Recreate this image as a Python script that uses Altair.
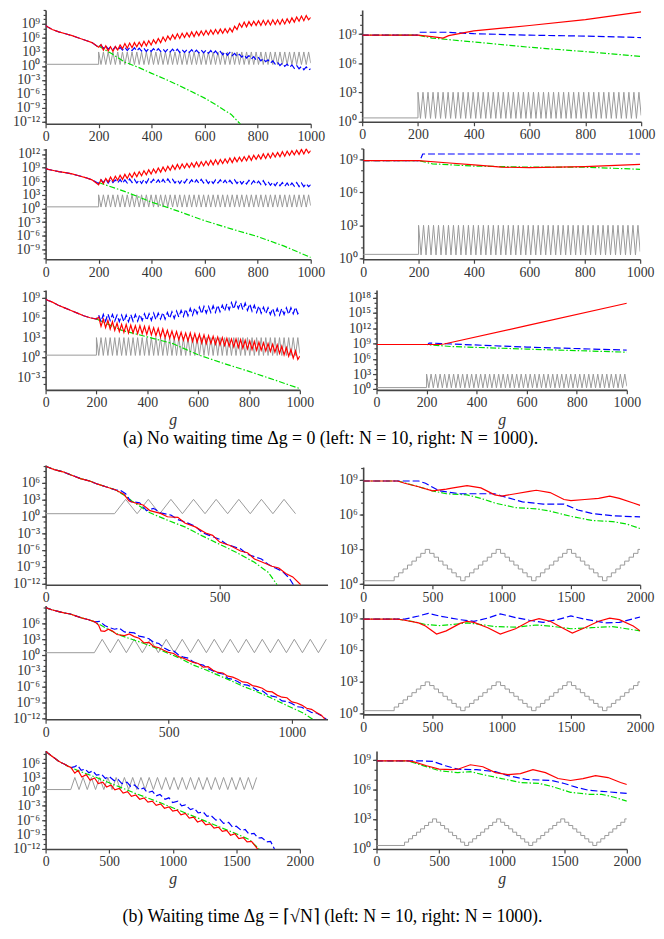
import altair as alt
import pandas as pd

FONT = "Liberation Serif"
SUP = str.maketrans("-0123456789", "⁻⁰¹²³⁴⁵⁶⁷⁸⁹")

# ------------------------------------------------------------------
# (a) shared generation grid for the zig-zag phase (g >= 200)
GA_G = [200, 209, 218, 227, 236, 245, 254, 263, 272, 281,
        290, 299, 308, 317, 326, 335, 344, 353, 362, 371,
        380, 389, 398, 407, 416, 425, 434, 443, 452, 461,
        470, 479, 488, 497, 506, 515, 524, 533, 542, 551,
        560, 569, 578, 587, 596, 605, 614, 623, 632, 641,
        650, 659, 668, 677, 686, 695, 704, 713, 722, 731,
        740, 749, 758, 767, 776, 785, 794, 803, 812, 821,
        830, 839, 848, 857, 866, 875, 884, 893, 902, 911,
        920, 929, 938, 947, 956, 965, 974, 983, 992, 1000]
GA_GRAY_V = [3.0, 0.3, 3.0, 0.3, 3.0, 0.3, 3.0, 0.3, 3.0, 0.3,
             3.0, 0.3, 3.0, 0.3, 3.0, 0.3, 3.0, 0.3, 3.0, 0.3,
             3.0, 0.3, 3.0, 0.3, 3.0, 0.3, 3.0, 0.3, 3.0, 0.3,
             3.0, 0.3, 3.0, 0.3, 3.0, 0.3, 3.0, 0.3, 3.0, 0.3,
             3.0, 0.3, 3.0, 0.3, 3.0, 0.3, 3.0, 0.3, 3.0, 0.3,
             3.0, 0.3, 3.0, 0.3, 3.0, 0.3, 3.0, 0.3, 3.0, 0.3,
             3.0, 0.3, 3.0, 0.3, 3.0, 0.3, 3.0, 0.3, 3.0, 0.3,
             3.0, 0.3, 3.0, 0.3, 3.0, 0.3, 3.0, 0.3, 3.0, 0.3,
             3.0, 0.3, 3.0, 0.3, 3.0, 0.3, 3.0, 0.3, 3.0, 0.6]
GA_PRE_G = [0, 200]
GA_PRE_V = [0.35, 0.35]

INIT_G = [0, 10, 25, 50, 75, 100, 125, 150, 175]

# row 1 left (N=10)
R1L_INIT = [8.7, 8.3, 7.8, 7.3, 6.9, 6.5, 6.0, 5.5, 5.0]
R1L_RED = [4.0, 4.6, 3.4, 4.3, 3.2, 4.1, 3.1, 4.2, 3.4, 4.5,
           3.7, 4.8, 3.8, 4.9, 3.9, 5.0, 4.1, 5.1, 4.2, 5.3,
           4.3, 5.4, 4.5, 5.6, 4.8, 5.9, 5.0, 6.2, 5.3, 6.4,
           5.6, 6.7, 5.8, 6.9, 5.9, 7.0, 6.1, 7.1, 6.2, 7.3,
           6.3, 7.4, 6.5, 7.5, 6.6, 7.6, 6.7, 7.7, 6.8, 7.8,
           6.9, 7.9, 7.0, 8.0, 7.1, 8.1, 7.3, 8.5, 7.8, 9.1,
           8.3, 9.4, 8.4, 9.5, 8.6, 9.6, 8.7, 9.7, 8.7, 9.8,
           8.8, 9.8, 8.8, 9.9, 8.9, 9.9, 8.9, 10.0, 9.0, 10.1,
           9.2, 10.3, 9.4, 10.5, 9.6, 10.7, 9.7, 10.8, 9.9, 10.4]
R1L_BLUE = [4.0, 4.5, 3.8, 4.3, 3.6, 4.1, 3.5, 4.1, 3.4, 4.0,
            3.4, 4.0, 3.3, 3.9, 3.3, 3.9, 3.2, 3.8, 3.2, 3.8,
            3.1, 3.7, 3.1, 3.7, 3.1, 3.7, 3.1, 3.6, 3.0, 3.6,
            3.0, 3.6, 3.0, 3.6, 2.9, 3.5, 2.9, 3.5, 2.9, 3.5,
            2.8, 3.4, 2.8, 3.4, 2.8, 3.4, 2.7, 3.3, 2.6, 3.2,
            2.5, 3.1, 2.4, 3.0, 2.3, 2.9, 2.2, 2.7, 2.0, 2.5,
            1.9, 2.4, 1.7, 2.2, 1.5, 2.0, 1.3, 1.8, 1.1, 1.6,
            0.9, 1.3, 0.6, 1.1, 0.4, 0.8, 0.1, 0.6, -0.1, 0.4,
            -0.3, 0.2, -0.5, 0.1, -0.6, -0.1, -0.8, -0.2, -0.9, -0.6]
R1L_GREEN_G = [200, 250, 300, 350, 400, 450, 500, 550, 600, 650, 700, 735]
R1L_GREEN_V = [4.3, 2.6, 0.8, -0.3, -1.6, -2.8, -4.1, -5.5, -6.9, -8.6, -10.4, -12.5]

# row 2 left
R2L_INIT = [8.8, 8.6, 8.4, 8.1, 7.9, 7.6, 7.2, 6.8, 6.3]
R2L_RED = [5.2, 6.3, 5.5, 6.6, 5.8, 6.9, 6.0, 7.1, 6.2, 7.3,
           6.4, 7.5, 6.6, 7.7, 6.8, 7.9, 7.0, 8.1, 7.2, 8.3,
           7.4, 8.5, 7.6, 8.7, 7.8, 8.9, 8.0, 9.1, 8.2, 9.3,
           8.4, 9.5, 8.6, 9.7, 8.7, 9.8, 8.9, 9.9, 9.0, 10.0,
           9.1, 10.2, 9.2, 10.3, 9.4, 10.4, 9.5, 10.6, 9.6, 10.7,
           9.7, 10.8, 9.9, 10.9, 10.0, 11.1, 10.1, 11.2, 10.3, 11.3,
           10.4, 11.4, 10.5, 11.6, 10.6, 11.7, 10.8, 11.8, 10.9, 12.0,
           11.0, 12.1, 11.1, 12.2, 11.3, 12.3, 11.4, 12.5, 11.5, 12.6,
           11.7, 12.7, 11.8, 12.8, 11.9, 13.0, 12.0, 13.1, 12.2, 12.7]
R2L_BLUE = [5.5, 6.3, 5.7, 6.5, 5.6, 6.4, 5.7, 6.3, 5.6, 6.4,
            5.5, 6.3, 5.6, 6.5, 5.7, 6.4, 5.6, 6.3, 5.5, 6.4,
            5.6, 6.5, 5.7, 6.4, 5.6, 6.3, 5.5, 6.4, 5.6, 6.5,
            5.7, 6.4, 5.6, 6.3, 5.5, 6.3, 5.6, 6.4, 5.6, 6.3,
            5.5, 6.3, 5.6, 6.4, 5.6, 6.3, 5.5, 6.2, 5.5, 6.3,
            5.6, 6.3, 5.5, 6.2, 5.4, 6.2, 5.5, 6.3, 5.5, 6.2,
            5.4, 6.1, 5.4, 6.2, 5.4, 6.1, 5.3, 6.0, 5.3, 6.1,
            5.2, 5.9, 5.1, 5.8, 5.0, 5.8, 5.0, 5.7, 4.9, 5.6,
            4.8, 5.6, 4.9, 5.7, 4.8, 5.6, 4.8, 5.5, 4.8, 5.2]
R2L_GREEN_G = [200, 300, 400, 500, 600, 700, 800, 900, 1000]
R2L_GREEN_V = [5.7, 3.7, 1.4, -0.6, -2.7, -4.5, -6.2, -8.3, -10.8]

# row 3 left
R3L_INIT = [8.8, 8.6, 8.4, 7.9, 7.5, 7.1, 6.7, 6.3, 6.0]
R3L_RED = [5.8, 6.1, 4.7, 5.8, 4.5, 5.6, 4.3, 5.4, 4.1, 5.2,
           3.9, 5.0, 3.8, 5.0, 3.7, 4.9, 3.7, 4.8, 3.6, 4.8,
           3.6, 4.7, 3.5, 4.7, 3.4, 4.5, 3.3, 4.4, 3.1, 4.3,
           3.0, 4.1, 2.9, 4.0, 2.8, 3.9, 2.7, 3.8, 2.6, 3.7,
           2.5, 3.7, 2.4, 3.6, 2.3, 3.5, 2.2, 3.4, 2.1, 3.3,
           2.1, 3.2, 2.0, 3.1, 1.9, 3.0, 1.8, 2.9, 1.7, 2.8,
           1.6, 2.8, 1.5, 2.7, 1.4, 2.6, 1.3, 2.5, 1.2, 2.4,
           1.1, 2.3, 1.1, 2.2, 1.0, 2.1, 0.9, 2.0, 0.8, 1.9,
           0.6, 1.7, 0.4, 1.5, 0.2, 1.2, -0.1, 1.0, -0.3, 0.2]
R3L_BLUE = [5.8, 6.4, 5.4, 6.5, 5.5, 6.6, 5.6, 6.5, 5.5, 6.4,
            5.4, 6.4, 5.4, 6.4, 5.4, 6.5, 5.5, 6.5, 5.5, 6.5,
            5.6, 6.6, 5.6, 6.6, 5.6, 6.7, 5.7, 6.7, 5.8, 6.8,
            5.8, 6.8, 5.9, 6.9, 5.9, 7.0, 6.1, 7.1, 6.2, 7.3,
            6.3, 7.4, 6.4, 7.5, 6.6, 7.6, 6.6, 7.7, 6.7, 7.7,
            6.8, 7.8, 6.8, 7.9, 6.9, 7.9, 7.0, 8.1, 7.2, 8.3,
            7.3, 8.4, 7.4, 8.3, 7.2, 8.2, 7.1, 8.1, 7.0, 7.9,
            6.8, 7.8, 6.7, 7.6, 6.6, 7.5, 6.5, 7.4, 6.4, 7.4,
            6.4, 7.4, 6.5, 7.5, 6.5, 7.5, 6.6, 7.6, 6.6, 7.1]
R3L_GREEN_G = [200, 300, 400, 500, 600, 700, 800, 900, 1000]
R3L_GREEN_V = [5.8, 4.1, 3.1, 2.1, 0.4, -0.9, -2.1, -3.4, -4.7]

# right column (a), N = 1000
R1R_RED_G = [0, 200, 250, 290, 310, 400, 600, 800, 1000]
R1R_RED_V = [8.9, 8.9, 8.75, 8.6, 8.85, 9.35, 9.9, 10.5, 11.3]
R1R_BLUE_G = [0, 200, 205, 300, 400, 600, 800, 1000]
R1R_BLUE_V = [8.9, 8.9, 9.2, 9.2, 9.05, 8.9, 8.8, 8.65]
R1R_GREEN_G = [0, 200, 250, 400, 600, 800, 1000]
R1R_GREEN_V = [8.9, 8.9, 8.6, 8.2, 7.65, 7.2, 6.7]

R2R_RED_G = [0, 200, 300, 400, 500, 600, 800, 1000]
R2R_RED_V = [8.9, 8.9, 8.7, 8.5, 8.3, 8.25, 8.35, 8.55]
R2R_BLUE_G = [0, 205, 215, 1000]
R2R_BLUE_V = [8.9, 8.9, 9.5, 9.5]
R2R_GREEN_G = [0, 200, 250, 400, 600, 800, 1000]
R2R_GREEN_V = [8.9, 8.9, 8.6, 8.4, 8.3, 8.3, 8.1]

R3R_RED_G = [0, 250, 270, 600, 1000]
R3R_RED_V = [8.8, 8.8, 8.9, 12.5, 16.9]
R3R_BLUE_G = [0, 205, 210, 300, 600, 1000]
R3R_BLUE_V = [8.8, 8.8, 9.1, 8.9, 8.3, 7.7]
R3R_GREEN_G = [0, 200, 300, 600, 1000]
R3R_GREEN_V = [8.8, 8.8, 8.4, 7.9, 7.3]

# ------------------------------------------------------------------
# (b) gray schedule, left (N = 10)
GB_L_G = [0, 198, 230, 263, 295, 328, 360, 393, 425, 458, 490, 523, 555, 588, 620,
          653, 685, 718, 750, 783, 815, 848, 880, 913, 945, 978, 1010, 1043, 1075,
          1108, 1140, 1173, 1205, 1238, 1270, 1303, 1335, 1368, 1400, 1433, 1465,
          1498, 1530, 1563, 1595, 1628, 1660]
GB_L_V = [0.45, 0.45, 3.0, 0.45, 3.0, 0.45, 3.0, 0.45, 3.0, 0.45, 3.0, 0.45, 3.0,
          0.45, 3.0, 0.45, 3.0, 0.45, 3.0, 0.45, 3.0, 0.45, 3.0, 0.45, 3.0, 0.45,
          3.0, 0.45, 3.0, 0.45, 3.0, 0.45, 3.0, 0.45, 3.0, 0.45, 3.0, 0.45, 3.0,
          0.45, 3.0, 0.45, 3.0, 0.45, 3.0, 0.45, 3.0]
# (b) gray staircase, right (N = 1000)
GB_R_G = [0, 224, 256, 288, 320, 352, 384, 416, 448, 480, 512, 544, 576, 608, 640,
          672, 704, 736, 768, 800, 832, 864, 896, 928, 960, 992, 1024, 1056, 1088,
          1120, 1152, 1184, 1216, 1248, 1280, 1312, 1344, 1376, 1408, 1440, 1472,
          1504, 1536, 1568, 1600, 1632, 1664, 1696, 1728, 1760, 1792, 1824, 1856,
          1888, 1920, 1952, 1984, 2000]
GB_R_V = [0.3, 0.64, 0.98, 1.31, 1.65, 1.99, 2.33, 2.66, 3.0, 2.66, 2.33, 1.99,
          1.65, 1.31, 0.98, 0.64, 0.3, 0.64, 0.98, 1.31, 1.65, 1.99, 2.33, 2.66,
          3.0, 2.66, 2.33, 1.99, 1.65, 1.31, 0.98, 0.64, 0.3, 0.64, 0.98, 1.31,
          1.65, 1.99, 2.33, 2.66, 3.0, 2.66, 2.33, 1.99, 1.65, 1.31, 0.98, 0.64,
          0.3, 0.64, 0.98, 1.31, 1.65, 1.99, 2.33, 2.66, 3.0, 3.0]

INIT_B_G = [0, 25, 50, 75, 100, 125, 150, 175, 200]

# row 4 left
R4L_INIT = [8.9, 8.3, 7.9, 7.3, 6.7, 6.3, 5.7, 5.2, 4.7]
R4L_RED_G = [225, 240, 260, 280, 300, 330, 350, 380, 400, 430, 460, 480, 500, 530,
             560, 580, 600, 620, 650, 670, 690, 710, 733]
R4L_RED_V = [3.9, 2.7, 2.3, 2.0, 1.0, 0.5, -0.1, -0.2, -1.2, -1.9, -3.0, -3.4, -4.6,
             -5.2, -6.2, -6.5, -7.6, -8.1, -8.9, -9.2, -10.2, -10.8, -12.2]
R4L_BLUE_G = [215, 230, 245, 270, 290, 310, 330, 360, 380, 400, 430, 450, 470, 500,
              520, 540, 560, 580, 600, 620, 640, 660, 680, 700, 712]
R4L_BLUE_V = [4.6, 4.0, 2.6, 2.4, 1.0, 1.4, 0.6, 0.2, -0.6, -1.0, -1.8, -2.9, -3.4,
              -4.1, -5.0, -5.4, -5.8, -6.8, -7.2, -7.6, -8.6, -9.2, -9.8, -11.0, -12.2]
R4L_GREEN_G = [230, 250, 300, 350, 400, 450, 500, 550, 600, 640, 665]
R4L_GREEN_V = [3.6, 2.6, 0.6, -0.7, -1.9, -3.5, -5.0, -6.5, -8.2, -10.0, -12.2]

# row 5 left
R5L_INIT = [9.0, 8.6, 8.3, 8.0, 7.8, 7.4, 7.0, 6.7, 6.3]
R5L_RED_G = [215, 225, 240, 255, 270, 290, 320, 340, 360, 380, 400, 420, 440, 460,
             480, 500, 520, 540, 560, 580, 600, 620, 640, 660, 680, 700, 720, 740,
             760, 780, 800, 820, 840, 860, 880, 900, 920, 940, 960, 980, 1000, 1020,
             1040, 1060, 1080, 1100, 1120, 1135]
R5L_RED_V = [5.7, 4.6, 4.5, 4.9, 4.6, 3.9, 3.7, 4.0, 3.5, 3.2, 2.3, 2.4, 1.6, 1.4,
             0.9, 0.5, 0.3, -0.3, -0.6, -1.0, -1.4, -1.6, -2.3, -2.2, -2.9, -3.3,
             -3.4, -4.0, -4.2, -4.6, -5.1, -5.2, -5.8, -6.0, -6.3, -6.9, -7.0, -7.6,
             -8.0, -8.1, -8.9, -9.1, -9.5, -10.1, -10.3, -10.9, -11.4, -12.2]
R5L_BLUE_G = [220, 240, 260, 280, 300, 320, 340, 360, 380, 400, 420, 440, 460, 480,
              500, 520, 540, 560, 580, 600, 620, 640, 660, 680, 700, 720, 740, 760,
              780, 800, 820, 840, 860, 880, 900, 920, 940, 960, 980, 1000, 1020, 1040,
              1060, 1080, 1100, 1120, 1140]
R5L_BLUE_V = [6.4, 5.6, 5.2, 4.9, 5.1, 4.4, 4.3, 4.2, 3.6, 3.4, 3.1, 2.4, 2.2, 1.4,
              0.9, 0.8, 0.0, -0.4, -0.6, -1.3, -1.7, -1.9, -2.6, -3.0, -3.4, -3.6,
              -4.4, -4.6, -5.0, -5.6, -5.7, -6.1, -6.7, -6.8, -7.5, -7.8, -8.0, -8.7,
              -8.8, -9.2, -9.8, -9.9, -10.4, -10.9, -11.0, -11.5, -12.2]
R5L_GREEN_G = [250, 300, 350, 400, 450, 500, 550, 600, 650, 700, 750, 800, 850, 900,
               950, 1000, 1050, 1085]
R5L_GREEN_V = [5.0, 3.8, 3.0, 2.2, 1.3, 0.3, -0.7, -1.9, -2.8, -3.8, -4.8, -5.9, -6.8,
               -7.8, -8.9, -10.0, -11.1, -12.2]

# row 6 left
R6L_INIT = [8.6, 8.0, 7.5, 7.0, 6.5, 6.1, 5.8, 5.4, 5.1]
R6L_RED_G = [230, 255, 285, 320, 350, 385, 415, 450, 480, 515, 545, 580, 610, 645,
             675, 710, 740, 775, 805, 840, 870, 905, 935, 970, 1000, 1035, 1065, 1100,
             1130, 1165, 1195, 1230, 1260, 1295, 1325, 1360, 1390, 1425, 1455, 1490,
             1520, 1555, 1585, 1620, 1650, 1670]
R6L_RED_V = [3.9, 4.5, 3.1, 3.6, 2.4, 2.9, 1.7, 2.0, 1.0, 1.4, 0.4, 0.7, -0.3, 0.0,
             -1.0, -0.7, -1.6, -1.3, -2.2, -2.0, -2.9, -2.6, -3.5, -3.2, -4.1, -3.9,
             -4.9, -4.6, -5.6, -5.4, -6.4, -6.1, -7.0, -6.8, -7.7, -7.5, -8.4, -8.2,
             -9.2, -8.9, -9.9, -9.7, -10.6, -10.5, -11.5, -12.2]
R6L_BLUE_G = [230, 250, 280, 310, 340, 370, 400, 440, 470, 500, 540, 570, 600, 640,
              670, 700, 740, 770, 800, 840, 870, 900, 940, 970, 1000, 1040, 1070, 1100,
              1140, 1170, 1200, 1240, 1270, 1300, 1340, 1370, 1400, 1440, 1470, 1500,
              1540, 1570, 1600, 1640, 1670, 1700, 1740, 1770, 1800]
R6L_BLUE_V = [5.3, 5.6, 4.5, 4.8, 4.0, 4.4, 3.5, 3.7, 2.8, 3.2, 2.3, 2.6, 1.7, 2.0,
              1.1, 1.4, 0.4, 0.8, -0.2, 0.1, -0.9, -0.6, -1.6, -1.3, -2.3, -2.0, -3.0,
              -2.8, -3.8, -3.5, -4.5, -4.3, -5.2, -5.0, -6.0, -5.8, -6.7, -6.5, -7.5,
              -7.3, -8.2, -8.0, -9.0, -8.8, -9.8, -9.7, -10.6, -10.5, -12.1]
R6L_GREEN_G = [250, 300, 400, 500, 600, 700, 800, 900, 1000, 1100, 1200, 1300, 1400,
               1500, 1600, 1680]
R6L_GREEN_V = [4.5, 4.0, 3.0, 1.9, 0.8, -0.3, -1.3, -2.3, -3.4, -4.5, -5.6, -6.7, -7.8,
               -8.9, -10.1, -12.1]

# right column (b), N = 1000
R4R_RED_G = [0, 250, 300, 400, 500, 600, 650, 750, 850, 950, 1000, 1100, 1200, 1250,
             1350, 1450, 1500, 1600, 1700, 1780, 1850, 1950, 2000]
R4R_RED_V = [8.9, 8.9, 8.7, 8.4, 8.05, 8.2, 8.3, 8.5, 8.3, 7.7, 7.6, 7.8, 8.0, 8.1,
             7.9, 7.3, 7.2, 7.3, 7.4, 7.6, 7.4, 7.0, 6.8]
R4R_BLUE_G = [0, 400, 450, 550, 700, 950, 1000, 1150, 1300, 1450, 1550, 1650, 1800, 2000]
R4R_BLUE_V = [8.9, 8.9, 8.7, 8.05, 7.8, 7.8, 7.6, 7.1, 6.9, 6.9, 6.4, 6.1, 5.9, 5.8]
R4R_GREEN_G = [0, 250, 400, 500, 600, 750, 850, 950, 1100, 1250, 1350, 1500, 1650,
               1800, 1900, 2000]
R4R_GREEN_V = [8.9, 8.9, 8.4, 8.05, 7.8, 7.7, 7.4, 7.0, 6.6, 6.5, 6.3, 5.85, 5.5, 5.4,
               5.2, 4.8]

R5R_RED_G = [0, 250, 300, 400, 450, 530, 600, 700, 750, 800, 900, 990, 1100, 1200,
             1270, 1350, 1450, 1510, 1600, 1700, 1780, 1850, 1950, 2000]
R5R_RED_V = [8.9, 8.9, 8.8, 8.55, 8.25, 7.5, 7.8, 8.5, 8.7, 8.6, 8.1, 7.5, 8.0, 8.7,
             8.95, 8.7, 8.0, 7.6, 8.1, 8.7, 9.0, 8.85, 8.25, 7.8]
R5R_BLUE_G = [0, 300, 400, 470, 550, 700, 800, 900, 990, 1100, 1200, 1300, 1400, 1500,
              1600, 1750, 1850, 2000]
R5R_BLUE_V = [8.9, 8.9, 9.2, 9.45, 9.2, 8.85, 8.7, 9.0, 9.4, 9.05, 8.8, 8.6, 8.85, 9.2,
              8.9, 8.55, 8.6, 9.1]
R5R_GREEN_G = [0, 250, 350, 450, 550, 650, 750, 850, 950, 1100, 1250, 1350, 1500,
               1650, 1800, 1900, 2000]
R5R_GREEN_V = [8.9, 8.9, 8.7, 8.4, 8.3, 8.4, 8.55, 8.4, 8.2, 8.15, 8.35, 8.25, 8.0,
               8.1, 8.2, 8.0, 7.8]

R6R_RED_G = [0, 250, 300, 400, 500, 600, 650, 750, 850, 950, 1050, 1150, 1250, 1350,
             1450, 1550, 1650, 1750, 1850, 1950, 2000]
R6R_RED_V = [8.9, 8.9, 8.8, 8.4, 8.05, 8.0, 8.05, 8.5, 8.3, 7.7, 7.5, 7.6, 8.0, 7.7,
             7.1, 6.9, 7.1, 7.4, 7.2, 6.7, 6.5]
R6R_BLUE_G = [0, 350, 450, 550, 650, 800, 950, 1050, 1200, 1400, 1500, 1600, 1700,
              1800, 2000]
R6R_BLUE_V = [8.9, 8.9, 8.85, 8.4, 8.05, 8.0, 7.8, 7.4, 7.0, 6.9, 6.6, 6.2, 5.9, 5.8, 5.6]
R6R_GREEN_G = [0, 250, 350, 500, 650, 750, 850, 1000, 1150, 1300, 1400, 1550, 1700,
               1800, 1900, 2000]
R6R_GREEN_V = [8.9, 8.9, 8.5, 7.9, 7.7, 7.8, 7.5, 7.1, 6.7, 6.6, 6.3, 5.7, 5.5, 5.5,
               5.2, 4.8]

CAP_A = "(a) No waiting time \u0394g = 0 (left: N = 10, right: N = 1000)."
CAP_B = "(b) Waiting time \u0394g = \u2308\u221aN\u2309 (left: N = 10, right: N = 1000)."

# ------------------------------------------------------------------
STYLE = {
    "gray": dict(color="#9a9a9a", strokeWidth=1.0),
    "green": dict(color="#00e000", strokeWidth=1.2, strokeDash=[6, 2, 1.5, 2]),
    "blue": dict(color="#0000ff", strokeWidth=1.2, strokeDash=[7, 3]),
    "red": dict(color="#ff0000", strokeWidth=1.2),
}


def label_expr(exps):
    parts = ["abs(log(datum.value)/LN10-(%d))<0.01?'10%s'" % (e, str(e).translate(SUP))
             for e in exps]
    return ":".join(parts) + ":''"


def frame(gs, vs):
    return pd.DataFrame({"g": gs, "v": [10.0 ** v for v in vs],
                         "i": list(range(len(gs)))})


def panel(curves, xdom, xticks, ydom, yexps, w, h, gtitle=False, gray_step=False):
    xax = dict(values=xticks, format="d", labelFlush=False, labelOverlap=False)
    xax["title"] = "g" if gtitle else None
    xenc = alt.X("g:Q", scale=alt.Scale(domain=xdom, nice=False, zero=False),
                 axis=alt.Axis(**xax))
    yscale = alt.Scale(type="log", domain=[10.0 ** ydom[0], 10.0 ** ydom[1]], nice=False)
    y_main = alt.Y("v:Q", scale=yscale,
                   axis=alt.Axis(values=[10.0 ** e for e in yexps],
                                 labelExpr=label_expr(yexps), title=None,
                                 labelFlush=False, labelOverlap=False, orient="left"))
    y_none = alt.Y("v:Q", scale=yscale, axis=None)
    lo = int(-(-ydom[0] // 1))
    hi = int(ydom[1] // 1)
    minor_vals = [10.0 ** k for k in range(lo, hi + 1)]
    y_minor = alt.Y("v:Q", scale=yscale,
                    axis=alt.Axis(values=minor_vals, labels=False, domain=False,
                                  tickSize=2.5, title=None, orient="left"))
    layers = []
    for key in ("gray", "green", "blue", "red"):
        gs, vs = curves[key]
        kw = dict(STYLE[key])
        kw["clip"] = True
        if key == "gray" and gray_step:
            kw["interpolate"] = "step-after"
        yenc = y_main if key == "gray" else y_none
        layers.append(alt.Chart(frame(gs, vs)).mark_line(**kw)
                      .encode(x=xenc, y=yenc, order="i:Q"))
    gs, vs = curves["gray"]
    layers.append(alt.Chart(frame(gs, vs)).mark_line(opacity=0)
                  .encode(x=xenc, y=y_minor, order="i:Q"))
    return (alt.layer(*layers).resolve_axis(y="independent")
            .properties(width=w, height=h))


def upto(gs, vs, end):
    pairs = [(g, v) for g, v in zip(gs, vs) if g <= end]
    return [p[0] for p in pairs], [p[1] for p in pairs]


def spacer(h):
    return (alt.Chart(pd.DataFrame({"t": [""]})).mark_text()
            .encode(text="t:N").properties(width=10, height=h))


def caption(text, cx, cy, h):
    return (alt.Chart(pd.DataFrame({"t": [text]}))
            .mark_text(font=FONT, fontSize=18, align="center", baseline="middle",
                       color="black")
            .encode(text="t:N", x=alt.value(cx), y=alt.value(cy))
            .properties(width=10, height=h))


GRAY_A = (GA_PRE_G + GA_G, GA_PRE_V + GA_GRAY_V)

X_A = [0, 200, 400, 600, 800, 1000]
X_B2000 = [0, 500, 1000, 1500, 2000]

p1l = panel({"gray": GRAY_A,
             "green": (R1L_GREEN_G, R1L_GREEN_V),
             "blue": (INIT_G + GA_G, R1L_INIT + R1L_BLUE),
             "red": (INIT_G + GA_G, R1L_INIT + R1L_RED)},
            [0, 1000], X_A, (-12.4, 12.0), [-12, -9, -6, -3, 0, 3, 6, 9], 268, 115)
p2l = panel({"gray": GRAY_A,
             "green": (R2L_GREEN_G, R2L_GREEN_V),
             "blue": (INIT_G + GA_G, R2L_INIT + R2L_BLUE),
             "red": (INIT_G + GA_G, R2L_INIT + R2L_RED)},
            [0, 1000], X_A, (-11.2, 13.2), [-9, -6, -3, 0, 3, 6, 9, 12], 268, 112)
p3l = panel({"gray": GRAY_A,
             "green": (R3L_GREEN_G, R3L_GREEN_V),
             "blue": (INIT_G + GA_G, R3L_INIT + R3L_BLUE),
             "red": (INIT_G + GA_G, R3L_INIT + R3L_RED)},
            [0, 1000], X_A, (-4.9, 10.2), [-3, 0, 3, 6, 9], 257, 101, gtitle=True)

p1r = panel({"gray": GRAY_A,
             "green": (R1R_GREEN_G, R1R_GREEN_V),
             "blue": (R1R_BLUE_G, R1R_BLUE_V),
             "red": (R1R_RED_G, R1R_RED_V)},
            [0, 1000], X_A, (-0.05, 11.5), [0, 3, 6, 9], 282, 113)
p2r = panel({"gray": GRAY_A,
             "green": (R2R_GREEN_G, R2R_GREEN_V),
             "blue": (R2R_BLUE_G, R2R_BLUE_V),
             "red": (R2R_RED_G, R2R_RED_V)},
            [0, 1000], X_A, (-0.1, 10.0), [0, 3, 6, 9], 280, 112)
p3r = panel({"gray": GRAY_A,
             "green": (R3R_GREEN_G, R3R_GREEN_V),
             "blue": (R3R_BLUE_G, R3R_BLUE_V),
             "red": (R3R_RED_G, R3R_RED_V)},
            [0, 1000], X_A, (-0.1, 19.5), [0, 3, 6, 9, 12, 15, 18], 253, 101, gtitle=True)

p4l = panel({"gray": upto(GB_L_G, GB_L_V, 733),
             "green": (INIT_B_G + R4L_GREEN_G, R4L_INIT + R4L_GREEN_V),
             "blue": (INIT_B_G + R4L_BLUE_G, R4L_INIT + R4L_BLUE_V),
             "red": (INIT_B_G + R4L_RED_G, R4L_INIT + R4L_RED_V)},
            [0, 810], [0, 500], (-12.2, 9.1), [-12, -9, -6, -3, 0, 3, 6], 285, 121)
p5l = panel({"gray": upto(GB_L_G, GB_L_V, 1140),
             "green": (INIT_B_G + R5L_GREEN_G, R5L_INIT + R5L_GREEN_V),
             "blue": (INIT_B_G + R5L_BLUE_G, R5L_INIT + R5L_BLUE_V),
             "red": (INIT_B_G + R5L_RED_G, R5L_INIT + R5L_RED_V)},
            [0, 1145], [0, 500, 1000], (-12.2, 9.4), [-12, -9, -6, -3, 0, 3, 6], 285, 115)
p6l = panel({"gray": upto(GB_L_G, GB_L_V, 1660),
             "green": (INIT_B_G + R6L_GREEN_G, R6L_INIT + R6L_GREEN_V),
             "blue": (INIT_B_G + R6L_BLUE_G, R6L_INIT + R6L_BLUE_V),
             "red": (INIT_B_G + R6L_RED_G, R6L_INIT + R6L_RED_V)},
            [0, 2000], X_B2000, (-12.1, 8.6), [-12, -9, -6, -3, 0, 3, 6], 257, 99,
            gtitle=True)

p4r = panel({"gray": (GB_R_G, GB_R_V),
             "green": (R4R_GREEN_G, R4R_GREEN_V),
             "blue": (R4R_BLUE_G, R4R_BLUE_V),
             "red": (R4R_RED_G, R4R_RED_V)},
            [0, 2000], X_B2000, (-0.05, 10.1), [0, 3, 6, 9], 280, 119, gray_step=True)
p5r = panel({"gray": (GB_R_G, GB_R_V),
             "green": (R5R_GREEN_G, R5R_GREEN_V),
             "blue": (R5R_BLUE_G, R5R_BLUE_V),
             "red": (R5R_RED_G, R5R_RED_V)},
            [0, 2000], X_B2000, (-0.05, 9.9), [0, 3, 6, 9], 280, 107, gray_step=True)
p6r = panel({"gray": (GB_R_G, GB_R_V),
             "green": (R6R_GREEN_G, R6R_GREEN_V),
             "blue": (R6R_BLUE_G, R6R_BLUE_V),
             "red": (R6R_RED_G, R6R_RED_V)},
            [0, 2000], X_B2000, (-0.05, 9.9), [0, 3, 6, 9], 253, 99, gtitle=True,
            gray_step=True)

col_left = alt.vconcat(p1l, spacer(25), p2l, spacer(31), p3l,
                       caption(CAP_A, 288, 50, 76),
                       p4l, spacer(21), p5l, spacer(32), p6l,
                       caption(CAP_B, 290, 69, 82),
                       spacing=0, bounds="flush")
col_right = alt.vconcat(p1r, spacer(27), p2r, spacer(31), p3r, spacer(78),
                        p4r, spacer(24), p5r, spacer(37), p6r,
                        spacing=0, bounds="flush", center=True)

chart = (alt.hconcat(col_left, col_right, spacing=320, bounds="flush")
         .properties(padding={"left": 4, "top": -5, "right": 0, "bottom": 0})
         .configure_view(stroke="transparent")
         .configure_axis(grid=False, domainColor="#444444", domainWidth=1.6,
                         tickColor="#444444", tickWidth=1.2, tickSize=4,
                         labelColor="#333333", labelFont=FONT, labelFontSize=14,
                         labelPadding=2, titleFont=FONT, titleFontSize=16,
                         titleFontStyle="italic", titleFontWeight="normal",
                         titleColor="#333333", titlePadding=2))

chart.save("out.html", embed_options={"renderer": "svg", "actions": False})
